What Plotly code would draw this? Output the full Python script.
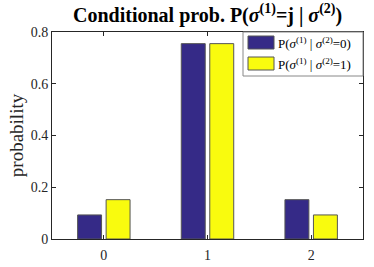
import plotly.graph_objects as go

categories = [0, 1, 2]
p_given0 = [0.093, 0.755, 0.152]
p_given1 = [0.152, 0.755, 0.093]
y_ticks = [0, 0.2, 0.4, 0.6, 0.8]
y_tick_labels = ["0", "0.2", "0.4", "0.6", "0.8"]
series_names = [
    "P(<i>σ</i><sup>(1)</sup> | <i>σ</i><sup>(2)</sup>=0)",
    "P(<i>σ</i><sup>(1)</sup> | <i>σ</i><sup>(2)</sup>=1)",
]
series_colors = ["#352a87", "#f9fb0e"]

font = "Liberation Serif, Times New Roman, serif"
W, H = 374, 267
ML, MR, MT, MB = 52, 11, 32, 28

fig = go.Figure()
for vals, name, col in zip([p_given0, p_given1], series_names, series_colors):
    fig.add_trace(go.Bar(
        x=categories, y=vals, name=name, showlegend=False,
        marker=dict(color=col, line=dict(color="#555555", width=1)),
    ))

# legend drawn as a box with swatches (paper coordinates)
pw, ph = W - ML - MR, H - MT - MB
def px(x):
    return (x - ML) / pw
def py(y):
    return 1 - (y - MT) / ph

shapes = [dict(type="rect", xref="paper", yref="paper",
               x0=px(243), x1=px(363), y0=py(76), y1=py(32),
               fillcolor="white", line=dict(color="#888888", width=1), layer="above")]
annotations = []
for i, (name, col) in enumerate(zip(series_names, series_colors)):
    top = 36 + i * 21
    shapes.append(dict(type="rect", xref="paper", yref="paper",
                       x0=px(248), x1=px(274), y0=py(top + 13), y1=py(top),
                       fillcolor=col, line=dict(color="#555555", width=1), layer="above"))
    annotations.append(dict(xref="paper", yref="paper", x=px(276), y=py(top + 7),
                            xanchor="left", yanchor="middle", text=name, showarrow=False,
                            font=dict(family=font, size=13, color="black")))

fig.update_layout(
    width=W, height=H,
    margin=dict(l=ML, r=MR, t=MT, b=MB),
    paper_bgcolor="white", plot_bgcolor="white",
    font=dict(family=font, size=14, color="#262626"),
    title=dict(
        text="<b>Conditional prob. P(<i>σ</i><sup>(1)</sup>=j | <i>σ</i><sup>(2)</sup>)</b>",
        x=0.555, xanchor="center", y=0.945, yanchor="middle",
        font=dict(family=font, size=20, color="black"),
    ),
    barmode="group", bargap=0.45, bargroupgap=0.16,
    shapes=shapes, annotations=annotations,
    xaxis=dict(
        range=[-0.5, 2.5], tickvals=categories, ticktext=[str(c) for c in categories],
        ticks="inside", ticklen=4, tickcolor="#262626", automargin=False,
        ticklabelstandoff=3,
        showline=True, linecolor="#262626", linewidth=1, mirror="ticks",
        showgrid=False, zeroline=False,
    ),
    yaxis=dict(
        range=[0, 0.8], tickvals=y_ticks, ticktext=y_tick_labels,
        ticks="inside", ticklen=4, tickcolor="#262626", automargin=False,
        showline=True, linecolor="#262626", linewidth=1, mirror="ticks",
        showgrid=False, zeroline=False,
        title=dict(text="probability", font=dict(family=font, size=19, color="#262626"), standoff=2),
    ),
)

fig.write_html("out.html", config={"displayModeBar": False},
               post_script="document.body.style.margin='0';")
